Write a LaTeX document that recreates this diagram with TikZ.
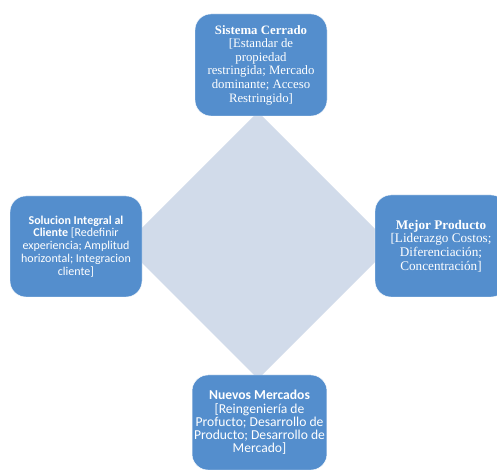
\documentclass[tikz,border=0pt]{standalone}
\usepackage{fontspec}
\setmainfont{Liberation Serif}
\newfontfamily\calfont{Carlito}
\definecolor{boxblue}{RGB}{84,142,205}
\definecolor{diamondblue}{RGB}{209,219,234}
\tikzset{
    estrategia/.style = {fill = boxblue, draw = white, line width = 0.4pt,
        rounded corners = 16pt, text = white, align = center,
        minimum width = 132pt, inner sep = 2pt}
}
\begin{document}
\begin{tikzpicture}[x = 1pt, y = 1pt]
                \clip (0,0) rectangle (497,470);
                \fill[white] (0,0) rectangle (497,470);
                \fill[diamondblue] (258,358) -- (391.5,224.5) -- (258,91) -- (124.5,224.5) -- cycle;
                \node[estrategia, font = \fontsize{12.8}{13.6}\selectfont,
                    minimum height = 102pt] (cerrado) at (261, 405)
                    {\textbf{Sistema Cerrado}\\{}[Estandar de\\propiedad\\restringida; Mercado\\dominante; Acceso\\Restringido]};
                \node[estrategia, font = \calfont\fontsize{12}{12.9}\selectfont,
                    minimum height = 101pt] (cliente) at (76, 223.5)
                    {\textbf{Solucion Integral al}\\\textbf{Cliente} [Redefinir\\experiencia; Amplitud\\horizontal; Integracion\\cliente]};
                \node[estrategia, font = \fontsize{13.2}{13.7}\selectfont,
                    minimum height = 102pt] (producto) at (441, 224)
                    {\textbf{Mejor Producto}\\{}[Liderazgo Costos;\\Diferenciación;\\Concentración]};
                \node[estrategia, font = \calfont\fontsize{13.6}{13.3}\selectfont,
                    minimum height = 95pt] (mercados) at (259.5, 47.5)
                    {\textbf{Nuevos Mercados}\\{}[Reingeniería de\\Profucto; Desarrollo de\\Producto; Desarrollo de\\Mercado]};
            \end{tikzpicture}
\end{document}
